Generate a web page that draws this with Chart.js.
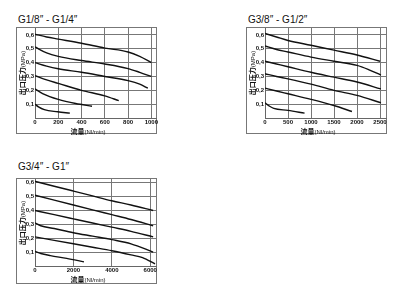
<!DOCTYPE html>
<html>
<head>
<meta charset="utf-8">
<script src="https://cdn.jsdelivr.net/npm/chart.js@4.4.1/dist/chart.umd.min.js"></script>
<style>
  html, body { margin: 0; padding: 0; background: #fff; }
  body { width: 398px; height: 296px; position: relative; overflow: hidden; font-family: "Liberation Sans", Arial, sans-serif; }
  .head { position: absolute; font-size: 10px; color: #111; white-space: nowrap; line-height: 10px; }
  .frame { position: absolute; box-sizing: border-box; border: 1px solid #777; }
  .frame .wrap { position: absolute; left: 0; top: 0; }
  .xt { position: absolute; white-space: nowrap; color: #111; transform: translate(-50%, -50%); line-height: 8px; }
  .yt { position: absolute; white-space: nowrap; color: #111; transform: translate(-50%, -50%) rotate(-90deg); line-height: 7px; }
  .big { font-family: "Noto Sans CJK SC", sans-serif; font-weight: bold; font-size: 7px; }
  .sm { font-family: "Liberation Sans Narrow", "Liberation Sans", sans-serif; font-size: 6px; }
</style>
</head>
<body>

<div class="head" style="left:18px; top:15px;">G1/8″ - G1/4″</div>
<div class="head" style="left:248px; top:15px;">G3/8″ - G1/2″</div>
<div class="head" style="left:18px; top:162px;">G3/4″ - G1″</div>

<div class="frame" style="left:16px; top:27px; width:141px; height:107px;"><div class="wrap" style="width:144px; height:105px;"><canvas id="c1"></canvas></div></div>
<div class="frame" style="left:246px; top:27px; width:141px; height:107px;"><div class="wrap" style="width:144px; height:105px;"><canvas id="c2"></canvas></div></div>
<div class="frame" style="left:16px; top:178px; width:141px; height:106px;"><div class="wrap" style="width:144px; height:104px;"><canvas id="c3"></canvas></div></div>

<div class="yt" style="left:20.5px; top:73px;"><span class="big">出口压力</span><span class="sm">(MPa)</span></div>
<div class="yt" style="left:250.5px; top:73px;"><span class="big">出口压力</span><span class="sm">(MPa)</span></div>
<div class="yt" style="left:20.5px; top:223px;"><span class="big">出口压力</span><span class="sm">(MPa)</span></div>

<div class="xt" style="left:88px; top:130px;"><span class="big">流量</span><span class="sm">(Nl/min)</span></div>
<div class="xt" style="left:318px; top:130px;"><span class="big">流量</span><span class="sm">(Nl/min)</span></div>
<div class="xt" style="left:88px; top:278px;"><span class="big">流量</span><span class="sm">(Nl/min)</span></div>

<script>
// pressure axis, shared by all three charts
const yTicks = [0, 0.1, 0.2, 0.3, 0.4, 0.5, 0.6];
const yTickLabels = ['', '0,1', '0,2', '0,3', '0,4', '0,5', '0,6'];

// G1/8" - G1/4"
const g18Ticks = [0, 200, 400, 600, 800, 1000];
const g18Flow = [
  [0, 100, 200, 400, 600, 800, 900, 1000],
  [0, 100, 200, 400, 600, 800, 900, 1000],
  [0, 100, 200, 400, 600, 800, 900, 970],
  [0, 100, 200, 400, 600, 720],
  [0, 70, 200, 350, 490],
  [0, 30, 80, 195, 300]
];
const g18Pres = [
  [0.605, 0.585, 0.57, 0.54, 0.505, 0.477, 0.445, 0.40],
  [0.513, 0.47, 0.445, 0.415, 0.39, 0.357, 0.33, 0.30],
  [0.40, 0.375, 0.356, 0.33, 0.30, 0.27, 0.245, 0.215],
  [0.305, 0.275, 0.25, 0.20, 0.16, 0.125],
  [0.21, 0.175, 0.135, 0.105, 0.085],
  [0.10, 0.08, 0.06, 0.045, 0.035]
];

// G3/8" - G1/2"
const g38Ticks = [0, 500, 1000, 1500, 2000, 2500];
const g38Flow = [
  [0, 250, 500, 1000, 1500, 2000, 2500],
  [0, 250, 500, 1000, 1500, 2000, 2250, 2520],
  [0, 250, 500, 1000, 1500, 2000, 2520],
  [0, 250, 500, 1000, 1500, 2000, 2520],
  [0, 250, 500, 1000, 1500, 1890],
  [0, 100, 190, 500, 860]
];
const g38Pres = [
  [0.61, 0.585, 0.56, 0.525, 0.49, 0.455, 0.41],
  [0.52, 0.495, 0.477, 0.44, 0.41, 0.38, 0.35, 0.31],
  [0.41, 0.39, 0.37, 0.33, 0.295, 0.26, 0.21],
  [0.32, 0.30, 0.283, 0.245, 0.20, 0.163, 0.11],
  [0.216, 0.195, 0.175, 0.135, 0.09, 0.047],
  [0.11, 0.085, 0.07, 0.055, 0.035]
];

// G3/4" - G1"
const g34Ticks = [0, 2000, 4000, 6000];
const g34Flow = [
  [0, 1000, 2000, 3000, 4000, 5000, 6150],
  [0, 1000, 2000, 3000, 4000, 5000, 6150],
  [0, 1000, 2000, 3000, 4000, 5000, 6150],
  [0, 300, 1000, 2000, 3000, 4000, 5000, 6150],
  [0, 1000, 2000, 3000, 4000, 5000, 5600, 6250],
  [0, 300, 800, 1650, 2550]
];
const g34Pres = [
  [0.61, 0.575, 0.54, 0.505, 0.47, 0.44, 0.40],
  [0.51, 0.475, 0.44, 0.405, 0.37, 0.335, 0.29],
  [0.40, 0.37, 0.34, 0.31, 0.28, 0.25, 0.21],
  [0.31, 0.29, 0.27, 0.24, 0.215, 0.19, 0.16, 0.10],
  [0.21, 0.185, 0.16, 0.135, 0.11, 0.08, 0.06, 0.015],
  [0.105, 0.09, 0.075, 0.055, 0.03]
];

const tickFont = { family: '"Liberation Sans Narrow", "Liberation Sans", sans-serif', size: 6, weight: 'bold' };

function makeChart(id, flows, pres, xTicks, xMax, yMax, xHeight) {
  new Chart(document.getElementById(id), {
    type: 'line',
    data: {
      datasets: flows.map((f, i) => ({
        data: f.map((x, j) => ({ x: x, y: pres[i][j] })),
        borderColor: '#111', borderWidth: 1.4, pointRadius: 0,
        cubicInterpolationMode: 'monotone', fill: false
      }))
    },
    options: {
      responsive: true, maintainAspectRatio: false, animation: false,
      // canvas runs 5px past the frame so the last tick label is not cut off
      layout: { padding: { left: 0, top: 0, bottom: 0, right: 5 } },
      plugins: { legend: { display: false }, tooltip: { enabled: false } },
      scales: {
        x: {
          type: 'linear', min: 0, max: xMax,
          afterBuildTicks: s => { s.ticks = xTicks.map(v => ({ value: v })); },
          afterFit: s => { s.height = xHeight; s.paddingLeft = 0; s.paddingRight = 0; },
          ticks: { font: tickFont, color: '#111', padding: 1, maxRotation: 0, autoSkip: false, callback: v => String(v) },
          grid: { color: '#777', lineWidth: 1, drawTicks: false },
          border: { color: '#666' }
        },
        y: {
          min: 0, max: yMax,
          afterBuildTicks: s => { s.ticks = yTicks.map(v => ({ value: v })); },
          afterFit: s => { s.width = 18; s.paddingTop = 0; s.paddingBottom = 0; },
          ticks: { font: tickFont, color: '#111', padding: 1, callback: (v, i) => yTickLabels[i] },
          grid: { color: '#777', lineWidth: 1, drawTicks: false },
          border: { color: '#666' }
        }
      }
    }
  });
}

makeChart('c1', g18Flow, g18Pres, g18Ticks, 1040, 0.65, 15);
makeChart('c2', g38Flow, g38Pres, g38Ticks, 2630, 0.65, 15);
makeChart('c3', g34Flow, g34Pres, g34Ticks, 6300, 0.627, 17);
</script>
</body>
</html>
